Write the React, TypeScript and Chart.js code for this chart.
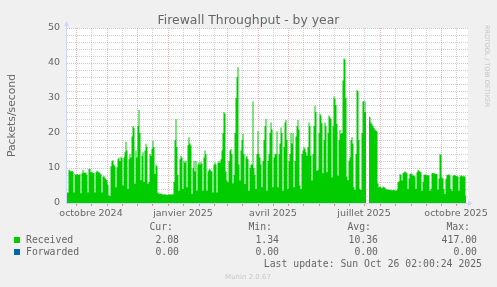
import React, { useEffect, useRef } from 'react';
import { Chart, registerables } from 'chart.js';

Chart.register(...registerables);

// ---- data -------------------------------------------------------------
const startDate = '2024-09-22'; // first day shown
const endDate = '2025-10-26'; // last day shown

// Received packets/second, one value per day from startDate to endDate
const receivedValues: (number | null)[] = [
  3, 3, 9.5, 9.3, 9.0, 9.2, 9.0, 3, 8.3, 8.0,
  8.3, 8.2, 8.0, 8.3, 2.8, 8.5, 9.5, 8.7, 8.6, 8.8,
  8.0, 3, 9.8, 9.7, 8.8, 9.0, 8.5, 8.6, 3.0, 8.8,
  9.2, 9.0, 8.8, 8.5, 8.2, 3.0, 7.5, 7.8, 7.2, 6.8,
  6.5, 5.2, 2.2, 2.0, 10.5, 12.0, 12.2, 11.0, 10.5, 4.5,
  10.2, 12.5, 13.0, 12.0, 13.2, 12.8, 5.0, 13.0, 14.5, 17.5,
  15.0, 4.0, 12.5, 14.0, 13.0, 19.0, 22.0, 21.5, 5.5, 15.0,
  13.0, 22.0, 26.6, 20.0, 6.5, 13.5, 14.5, 6.0, 15.0, 16.9,
  16.0, 5.5, 6.0, 14.0, 13.5, 15.5, 17.8, 16.0, 8.3, 11.0,
  10.5, 2.9, 2.7, 2.6, 2.8, 2.5, 2.4, 2.4, 2.5, 2.4,
  2.3, 2.4, 2.4, 2.5, 2.4, 2.4, 2.5, 6.0, 18.0, 24.0,
  16.0, 8.0, 3.5, 12.5, 13.5, 13.0, 4.0, 12.0, 11.5, 12.0,
  4.5, 16.5, 18.8, 17.0, 16.4, 2.6, 10.0, 12.0, 9.0, 12.0,
  3.5, 11.0, 11.6, 11.0, 11.8, 11.2, 3.5, 13.0, 15.0, 14.0,
  3.5, 9.0, 9.5, 9.7, 9.2, 9.0, 3.0, 11.0, 11.6, 11.0,
  3.0, 11.5, 12.0, 11.5, 12.5, 15.0, 20.0, 26.0, 25.6, 9.0,
  6.4, 5.9, 12.0, 15.0, 15.4, 14.0, 5.6, 8.0, 20.0, 30.0,
  36.0, 38.8, 11.0, 6.4, 15.0, 18.0, 19.7, 14.0, 5.4, 13.0,
  13.5, 12.5, 3.5, 10.0, 11.0, 11.0, 29.0, 10.0, 8.0, 4.0,
  14.0, 20.5, 14.0, 13.0, 11.0, 4.5, 12.0, 18.0, 22.0, 24.0,
  3.5, 12.0, 14.0, 20.0, 23.0, 21.0, 4.5, 13.0, 14.0, 14.0,
  20.5, 4.5, 14.0, 17.0, 21.6, 20.0, 3.5, 16.0, 23.0, 23.7,
  18.0, 4.0, 12.0, 14.0, 20.0, 17.0, 19.9, 4.5, 12.0, 19.0,
  22.0, 23.7, 21.0, 5.0, 4.0, 14.0, 15.0, 15.9, 15.5, 14.5,
  13.5, 16.0, 23.0, 22.0, 13.5, 6.4, 14.0, 22.0, 27.8, 26.0,
  9.2, 9.5, 20.0, 25.6, 25.0, 22.8, 8.5, 18.0, 23.0, 22.0,
  8.8, 20.0, 25.0, 24.5, 24.0, 7.3, 22.0, 30.4, 29.7, 28.0,
  22.6, 7.8, 18.0, 20.9, 19.7, 20.0, 35.0, 41.3, 41.0, 30.0,
  7.5, 6.5, 12.0, 13.0, 18.0, 18.8, 17.0, 4.5, 3.7, 14.0,
  32.3, 32.0, 18.0, 4.0, 3.7, 20.0, 29.0, 29.2, 26.0, 29.0,
  null, null, 24.7, 24.5, 23.0, 22.5, 22.0, 21.5, 21.0, 20.7,
  20.5, 5.6, 4.5, 4.7, 4.5, 4.2, 4.7, 4.5, 4.4, 4.0,
  3.8, 3.9, 3.8, 3.7, 3.8, 3.6, 3.7, 3.8, 3.6, 3.5,
  3.8, 5.9, 6.2, 8.3, 8.0, 6.4, 8.5, 8.8, 9.0, 8.8,
  8.5, 4.0, 7.0, 8.3, 8.5, 8.3, 7.8, 7.9, 7.6, 4.0,
  8.8, 9.5, 9.2, 9.0, 8.8, 3.5, 6.0, 8.0, 8.2, 8.0,
  7.9, 8.0, 7.8, 3.5, 4.0, 8.5, 8.6, 8.4, 8.5, 8.3,
  8.2, 3.8, 7.0, 14.0, 13.7, 7.3, 7.0, 4.0, 2.6, 7.0,
  8.1, 8.0, 8.2, 7.9, 4.0, 3.5, 7.8, 8.0, 7.9, 7.7,
  7.8, 7.5, 3.5, 7.5, 7.9, 7.8, 7.6, 7.8, 7.5, 2.08,
];

const labelDates = ['2024-10-16', '2025-01-16', '2025-04-16', '2025-07-16', '2025-10-16'];
const tickLabels = ['octobre 2024', 'janvier 2025', 'avril 2025', 'juillet 2025', 'octobre 2025'];

const yMin = 0;
const yMax = 50;
const yMajorStep = 10;
const yMinorStep = 2;

const title = 'Firewall Throughput - by year';
const yTitle = 'Packets/second';
const legendNames = ['Received', 'Forwarded'];
const legendColors = ['#00cc00', '#0066b3'];
const statHeaders = ['Cur:', 'Min:', 'Avg:', 'Max:'];
const curValues = ['2.08', '0.00'];
const minValues = ['1.34', '0.00'];
const avgValues = ['10.36', '0.00'];
const maxValues = ['417.00', '0.00'];
const lastUpdate = 'Last update: Sun Oct 26 02:00:24 2025';
const footer = 'Munin 2.0.67';
const sideText = 'RRDTOOL / TOBI OETIKER';

// ---- helpers ----------------------------------------------------------
const DAY = 86400000;
const toUTC = (s: string) => {
  const [y, m, d] = s.split('-').map(Number);
  return Date.UTC(y, m - 1, d);
};
const dayIndex = (s: string) => Math.round((toUTC(s) - toUTC(startDate)) / DAY);
const lastDay = dayIndex(endDate);

// grid days: 1st of month = major, 16th = minor
const majorDays: number[] = [];
const minorDays: number[] = [];
{
  const s = new Date(toUTC(startDate));
  let y = s.getUTCFullYear();
  let m = s.getUTCMonth();
  for (let i = 0; i < 16; i++) {
    const d1 = Math.round((Date.UTC(y, m, 1) - toUTC(startDate)) / DAY);
    const d16 = Math.round((Date.UTC(y, m, 16) - toUTC(startDate)) / DAY);
    if (d1 >= 0 && d1 <= lastDay) majorDays.push(d1);
    if (d16 >= 0 && d16 <= lastDay) minorDays.push(d16);
    m++;
    if (m > 11) { m = 0; y++; }
  }
}
const labelByDay = new Map<number, string>();
labelDates.forEach((d, i) => labelByDay.set(dayIndex(d), tickLabels[i]));

const FONT = '#666666';
const AXIS = '#cfd6f8';
const MGRID = 'rgba(225, 110, 110, 0.5)';
const GRID = 'rgba(170, 170, 170, 0.55)';

const muninPlugin = {
  id: 'muninDecor',
  beforeDraw(chart: any) {
    const { ctx, chartArea: a, scales } = chart;
    const xs = scales.x;
    const ys = scales.y;
    ctx.save();
    ctx.fillStyle = '#f0f0f0';
    ctx.fillRect(0, 0, chart.width, chart.height);
    ctx.fillStyle = '#ffffff';
    ctx.fillRect(a.left, a.top, a.right - a.left + 2, a.bottom - a.top);
    ctx.lineWidth = 1;
    ctx.setLineDash([1, 1]);
    const hline = (v: number, color: string) => {
      const py = Math.round(ys.getPixelForValue(v)) + 0.5;
      ctx.strokeStyle = color;
      ctx.beginPath();
      ctx.moveTo(a.left, py);
      ctx.lineTo(a.right + 2, py);
      ctx.stroke();
    };
    const vline = (d: number, color: string) => {
      const px = Math.round(xs.getPixelForValue(d)) + 0.5;
      ctx.strokeStyle = color;
      ctx.beginPath();
      ctx.moveTo(px, a.top);
      ctx.lineTo(px, a.bottom);
      ctx.stroke();
    };
    for (let v = yMin; v <= yMax; v += yMinorStep) if (v % yMajorStep !== 0) hline(v, GRID);
    minorDays.forEach((d) => vline(d, GRID));
    for (let v = yMin; v <= yMax; v += yMajorStep) hline(v, MGRID);
    majorDays.forEach((d) => vline(d, MGRID));
    ctx.restore();
  },
  afterDraw(chart: any) {
    const { ctx, chartArea: a } = chart;
    ctx.save();
    // axes + arrows
    ctx.strokeStyle = AXIS;
    ctx.fillStyle = AXIS;
    ctx.lineWidth = 1;
    ctx.beginPath();
    ctx.moveTo(a.left - 0.5, a.bottom + 0.5);
    ctx.lineTo(a.left - 0.5, a.top - 2);
    ctx.moveTo(a.left - 1, a.bottom + 0.5);
    ctx.lineTo(a.right + 2, a.bottom + 0.5);
    ctx.stroke();
    ctx.beginPath();
    ctx.moveTo(a.left - 0.5, a.top - 7);
    ctx.lineTo(a.left - 3, a.top - 2);
    ctx.lineTo(a.left + 2, a.top - 2);
    ctx.closePath();
    ctx.fill();
    ctx.beginPath();
    ctx.moveTo(a.right + 7, a.bottom + 0.5);
    ctx.lineTo(a.right + 2, a.bottom - 2);
    ctx.lineTo(a.right + 2, a.bottom + 3);
    ctx.closePath();
    ctx.fill();

    // title
    ctx.fillStyle = FONT;
    ctx.textAlign = 'center';
    ctx.textBaseline = 'alphabetic';
    ctx.font = '12.4px "DejaVu Sans"';
    ctx.fillText(title, chart.width / 2, 24);

    // y title
    ctx.save();
    ctx.translate(15, (a.top + a.bottom) / 2);
    ctx.rotate(-Math.PI / 2);
    ctx.font = '10.8px "DejaVu Sans"';
    ctx.fillText(yTitle, 0, 0);
    ctx.restore();

    // side watermark
    ctx.save();
    ctx.translate(485, 25);
    ctx.rotate(Math.PI / 2);
    ctx.textAlign = 'left';
    ctx.fillStyle = '#c4c4c4';
    ctx.font = '6.4px "DejaVu Sans"';
    ctx.fillText(sideText, 0, 0);
    ctx.restore();

    // legend table
    ctx.font = '9.8px "DejaVu Sans Mono"';
    ctx.fillStyle = FONT;
    ctx.textAlign = 'right';
    const headerRight = [173, 272, 371, 470];
    const valueRight = [179, 279, 378, 477];
    statHeaders.forEach((h, i) => ctx.fillText(h, headerRight[i], 230));
    const cols = [curValues, minValues, avgValues, maxValues];
    legendNames.forEach((name, r) => {
      const base = 243 + r * 12;
      ctx.fillStyle = legendColors[r];
      ctx.fillRect(14, base - 6, 6, 6);
      ctx.fillStyle = FONT;
      ctx.textAlign = 'left';
      ctx.fillText(name, 26, base);
      ctx.textAlign = 'right';
      cols.forEach((c, ci) => ctx.fillText(c[r], valueRight[ci], base));
    });
    ctx.fillText(lastUpdate, 482, 266.5);

    ctx.textAlign = 'center';
    ctx.fillStyle = '#c8c8c8';
    ctx.font = '7px "DejaVu Sans"';
    ctx.fillText(footer, 248, 279);
    ctx.restore();
  },
};

export default function App() {
  const ref = useRef<HTMLCanvasElement | null>(null);
  useEffect(() => {
    document.body.style.margin = '0';
    const canvas = ref.current;
    if (!canvas) return;
    const points = receivedValues.map((v, i) => ({ x: i, y: v }));
    const chart = new Chart(canvas, {
      type: 'line',
      data: {
        datasets: [
          {
            label: legendNames[0],
            data: points as any,
            fill: 'origin',
            backgroundColor: legendColors[0],
            borderColor: legendColors[0],
            borderWidth: 0,
            pointRadius: 0,
            stepped: 'middle',
            spanGaps: false,
          },
        ],
      },
      options: {
        animation: false,
        responsive: false,
        devicePixelRatio: 1,
        events: [],
        layout: { padding: { left: 0, top: 28, right: 31, bottom: 64 } },
        plugins: {
          legend: { display: false },
          title: { display: false },
          tooltip: { enabled: false },
        },
        scales: {
          x: {
            type: 'linear',
            min: 0,
            max: lastDay,
            afterFit: (s: any) => { s.height = 20; },
            afterBuildTicks: (s: any) => {
              s.ticks = [...majorDays, ...minorDays].sort((p, q) => p - q).map((v) => ({ value: v }));
            },
            border: { display: false },
            grid: {
              display: true,
              drawOnChartArea: false,
              drawTicks: true,
              tickLength: 3,
              tickColor: 'rgba(226, 120, 120, 0.8)',
              color: 'rgba(226, 120, 120, 0.8)',
            },
            ticks: {
              autoSkip: false,
              maxRotation: 0,
              minRotation: 0,
              padding: 2,
              color: FONT,
              font: { family: 'DejaVu Sans', size: 9.5 },
              callback: (v: any) => labelByDay.get(Number(v)) ?? '',
            },
          },
          y: {
            type: 'linear',
            min: yMin,
            max: yMax,
            afterFit: (s: any) => { s.width = 67; },
            border: { display: false },
            grid: { display: false, drawTicks: false },
            ticks: {
              stepSize: yMajorStep,
              padding: 7,
              color: FONT,
              font: { family: 'DejaVu Sans', size: 9.5 },
            },
          },
        },
      },
      plugins: [muninPlugin],
    });
    return () => chart.destroy();
  }, []);
  return (
    <div style={{ width: 497, height: 287 }}>
      <canvas ref={ref} width={497} height={287} style={{ display: 'block' }} />
    </div>
  );
}
